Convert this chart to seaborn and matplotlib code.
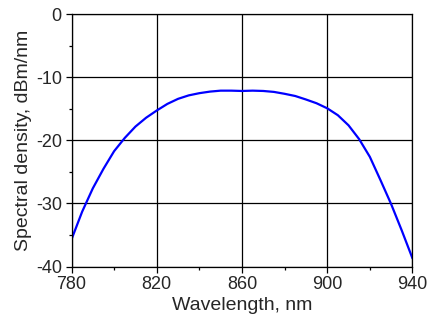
import numpy as np
import pandas as pd
import matplotlib.pyplot as plt
from matplotlib.ticker import MultipleLocator, FixedLocator
import seaborn as sns

sns.set_style("white")
plt.rcParams['font.family'] = ['Liberation Sans', 'DejaVu Sans']
plt.rcParams['axes.unicode_minus'] = False

# spectrum
wavelength = [780, 785, 790, 795, 800, 805, 810, 815, 820, 825, 830, 835,
              840, 845, 850, 855, 860, 865, 870, 875, 880, 885, 890, 895,
              900, 905, 910, 915, 920, 925, 930, 935, 940]
density = [-35.7, -31.3, -27.6, -24.5, -21.7, -19.6, -17.8, -16.4, -15.25,
           -14.2, -13.4, -12.85, -12.5, -12.25, -12.1, -12.1, -12.15, -12.1,
           -12.15, -12.3, -12.6, -12.95, -13.5, -14.1, -14.9, -16.0, -17.6,
           -19.8, -22.6, -26.3, -30.1, -34.3, -38.7]
x_ticks = [780, 820, 860, 900, 940]
x_minor = [800, 840, 880, 920]

df = pd.DataFrame({"wavelength": wavelength, "density": density})

fig = plt.figure(figsize=(4.36, 3.27), dpi=100)
ax = fig.add_axes([0.164, 0.185, 0.782, 0.771])

sns.lineplot(data=df, x="wavelength", y="density", color="#0000ff",
             linewidth=1.6, ax=ax)

ax.set_xlim(780, 940)
ax.set_ylim(-40, 0)
ax.xaxis.set_major_locator(FixedLocator(x_ticks))
ax.xaxis.set_minor_locator(FixedLocator(x_minor))
ax.yaxis.set_major_locator(MultipleLocator(10))
ax.yaxis.set_minor_locator(MultipleLocator(5))

ax.grid(True, which="major", color="black", linewidth=0.9)
ax.set_axisbelow(True)
for s in ax.spines.values():
    s.set_visible(True)
    s.set_color("black")
    s.set_linewidth(0.9)

ax.tick_params(which="major", direction="out", length=4, width=0.9,
               labelsize=13, pad=3, color="black", left=True, bottom=True)
ax.tick_params(which="minor", direction="out", length=2.5, width=0.9,
               color="black", left=True, bottom=True)

ax.set_xlabel("Wavelength, nm", fontsize=14, labelpad=3)
ax.set_ylabel("Spectral density, dBm/nm", fontsize=14, labelpad=3)

fig.savefig("out.png", dpi=100)
